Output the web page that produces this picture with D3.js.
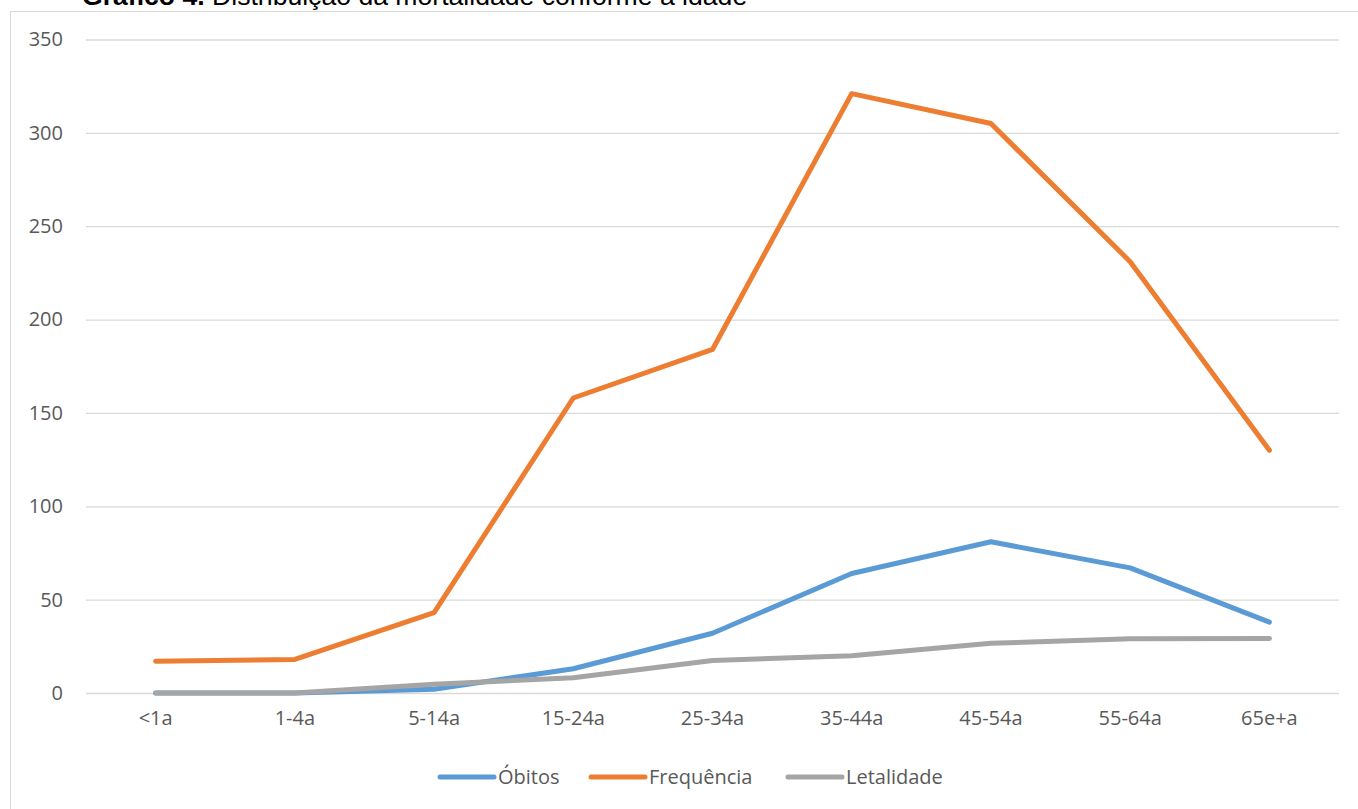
<!DOCTYPE html>
<html>
<head>
<meta charset="utf-8">
<script src="https://cdn.jsdelivr.net/npm/d3@7"></script>
<style>
  html, body { margin: 0; padding: 0; background: #fff; }
  svg { display: block; }
</style>
</head>
<body>
<svg id="chart" width="1358" height="809"></svg>
<script>
// data
var faixas = ["<1a", "1-4a", "5-14a", "15-24a", "25-34a", "35-44a", "45-54a", "55-64a", "65e+a"];
var obitos = [0, 0, 2, 13, 32, 64, 81, 67, 38];
var frequencia = [17, 18, 43, 158, 184, 321, 305, 231, 130];
var letalidade = [0, 0, 4.7, 8.2, 17.4, 19.9, 26.6, 29.0, 29.2];
var yTicks = [0, 50, 100, 150, 200, 250, 300, 350];

var series = [
    { name: "Óbitos", values: obitos, color: "#5B9BD5" },
    { name: "Frequência", values: frequencia, color: "#ED7D31" },
    { name: "Letalidade", values: letalidade, color: "#A5A5A5" }
];

var svg = d3.select("#chart");
var font = "'Open Sans', sans-serif";

// frame of the chart area
svg.append("rect")
    .attr("x", 10.5).attr("y", 11.5)
    .attr("width", 1400).attr("height", 900)
    .attr("fill", "none")
    .attr("stroke", "#D9D9D9")
    .attr("stroke-width", 1);

// title, mostly cut off at the top (as in the source)
var title = svg.append("text")
    .attr("x", 82).attr("y", 5)
    .attr("font-family", "'Liberation Sans', Arial, sans-serif")
    .attr("font-size", 26.6)
    .attr("fill", "#000");
title.append("tspan").attr("font-weight", "bold").text("Gráfico 4. ");
title.append("tspan").text("Distribuição da mortalidade conforme a idade");

var x = d3.scaleBand().domain(faixas).range([86, 1339]);
var y = d3.scaleLinear().domain([0, 350]).range([693, 39.5]);

// gridlines + y labels
var yAxis = svg.append("g")
    .attr("transform", "translate(86,0)")
    .call(d3.axisLeft(y).tickValues(yTicks).tickSize(-1253).tickPadding(23));
yAxis.select(".domain").remove();
yAxis.selectAll(".tick line").attr("stroke", "#D9D9D9").attr("stroke-width", 1.3);
yAxis.selectAll(".tick text")
    .attr("font-family", font).attr("font-size", 20).attr("fill", "#595959");

// x labels
var xAxis = svg.append("g")
    .attr("transform", "translate(0,693)")
    .call(d3.axisBottom(x).tickSize(0).tickPadding(18));
xAxis.select(".domain").remove();
xAxis.selectAll(".tick text")
    .attr("font-family", font).attr("font-size", 20).attr("fill", "#595959");

var line = d3.line()
    .x((d, i) => x(faixas[i]) + x.bandwidth() / 2)
    .y(d => y(d));

svg.append("g").selectAll("path")
    .data(series)
    .join("path")
    .attr("d", d => line(d.values))
    .attr("fill", "none")
    .attr("stroke", d => d.color)
    .attr("stroke-width", 5)
    .attr("stroke-linecap", "round")
    .attr("stroke-linejoin", "round");

// legend
var legendX = [440, 591, 788];
var legend = svg.append("g").selectAll("g")
    .data(series)
    .join("g")
    .attr("transform", (d, i) => "translate(" + legendX[i] + ",777)");
legend.append("line")
    .attr("x1", 0).attr("x2", 54)
    .attr("stroke", d => d.color)
    .attr("stroke-width", 5)
    .attr("stroke-linecap", "round");
legend.append("text")
    .attr("x", 58).attr("dy", "0.35em")
    .attr("font-family", font).attr("font-size", 20).attr("fill", "#595959")
    .text(d => d.name);
</script>
</body>
</html>
